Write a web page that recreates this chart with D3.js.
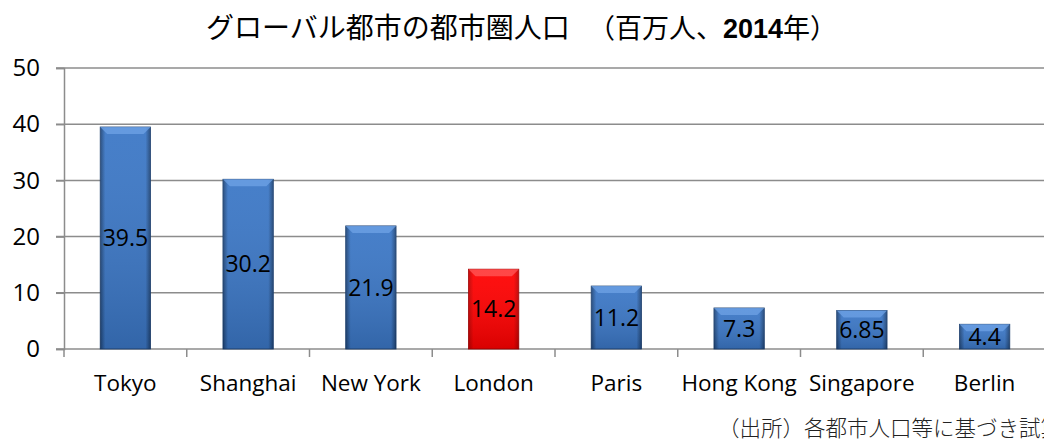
<!DOCTYPE html>
<html>
<head>
<meta charset="utf-8">
<script src="https://cdn.jsdelivr.net/npm/d3@7"></script>
<style>
  body { margin: 0; background: #fff; }
  svg { display: block; }
</style>
</head>
<body>
<svg id="chart"></svg>
<script>
// data
const cities = ["Tokyo", "Shanghai", "New York", "London", "Paris", "Hong Kong", "Singapore", "Berlin"];
const population = [39.5, 30.2, 21.9, 14.2, 11.2, 7.3, 6.85, 4.4];
const valueLabels = ["39.5", "30.2", "21.9", "14.2", "11.2", "7.3", "6.85", "4.4"];
const highlightCity = "London";
const yTicks = [0, 10, 20, 30, 40, 50];

const W = 1044, H = 440;
const margin = { top: 68, right: -2, bottom: 91, left: 64 };

const svg = d3.select("#chart").attr("width", W).attr("height", H);

// gradients for the bevelled bars
const defs = svg.append("defs");
function barGradient(id, edge, mid) {
    const g = defs.append("linearGradient").attr("id", id).attr("x1", 0).attr("x2", 1).attr("y1", 0).attr("y2", 0);
    g.append("stop").attr("offset", "0%").attr("stop-color", edge);
    g.append("stop").attr("offset", "10%").attr("stop-color", mid);
    g.append("stop").attr("offset", "90%").attr("stop-color", mid);
    g.append("stop").attr("offset", "100%").attr("stop-color", edge);
}
barGradient("blueBar", "#1f4577", "#3b77c6");
barGradient("redBar", "#c00000", "#ff0000");
const shade = defs.append("linearGradient").attr("id", "shade").attr("x1", 0).attr("x2", 0).attr("y1", 0).attr("y2", 1);
shade.append("stop").attr("offset", "0%").attr("stop-color", "#ffffff").attr("stop-opacity", 0.06);
shade.append("stop").attr("offset", "100%").attr("stop-color", "#000000").attr("stop-opacity", 0.15);

const x = d3.scaleBand()
    .domain(cities)
    .range([margin.left, W - margin.right])
    .paddingInner(0.59)
    .paddingOuter(0.295);

const y = d3.scaleLinear()
    .domain([0, 50])
    .range([H - margin.bottom, margin.top]);

// gridlines
svg.append("g")
    .selectAll("line")
    .data(yTicks)
    .enter()
    .append("line")
    .attr("x1", margin.left - 8)
    .attr("x2", W)
    .attr("y1", d => y(d))
    .attr("y2", d => y(d))
    .attr("stroke", "#8c8c8c")
    .attr("stroke-width", 1.5);

// y axis
const yAxis = svg.append("g")
    .attr("transform", "translate(" + margin.left + ",0)")
    .call(d3.axisLeft(y).tickValues(yTicks).tickSize(8).tickPadding(16));
yAxis.select(".domain").attr("stroke", "#8c8c8c").attr("stroke-width", 1.5);
yAxis.selectAll(".tick line").attr("stroke", "#8c8c8c").attr("stroke-width", 1.5);
yAxis.selectAll("text")
    .attr("font-family", "'Open Sans', sans-serif")
    .attr("font-size", 24)
    .attr("fill", "#000");

// x axis ticks between categories
const step = x.step();
const boundaries = d3.range(cities.length + 1).map(i => margin.left + i * step);
svg.append("g")
    .selectAll("line")
    .data(boundaries)
    .enter()
    .append("line")
    .attr("x1", d => d)
    .attr("x2", d => d)
    .attr("y1", y(0))
    .attr("y2", y(0) + 8)
    .attr("stroke", "#8c8c8c")
    .attr("stroke-width", 1.5);

// bars
const bars = svg.append("g")
    .selectAll("g")
    .data(cities)
    .enter()
    .append("g");

bars.append("rect")
    .attr("x", d => x(d))
    .attr("y", (d, i) => y(population[i]))
    .attr("width", x.bandwidth())
    .attr("height", (d, i) => y(0) - y(population[i]))
    .attr("fill", d => d === highlightCity ? "url(#redBar)" : "url(#blueBar)")
    .attr("stroke", d => d === highlightCity ? "#a00000" : "#1c3f6e")
    .attr("stroke-width", 0.8);

bars.append("rect")
    .attr("x", d => x(d))
    .attr("y", (d, i) => y(population[i]))
    .attr("width", x.bandwidth())
    .attr("height", (d, i) => y(0) - y(population[i]))
    .attr("fill", "url(#shade)");

// top bevel
bars.append("path")
    .attr("d", (d, i) => {
        const x0 = x(d), x1 = x0 + x.bandwidth(), t = y(population[i]), b = 7;
        return "M" + x0 + "," + t + "L" + x1 + "," + t + "L" + (x1 - b) + "," + (t + b) + "L" + (x0 + b) + "," + (t + b) + "Z";
    })
    .attr("fill", d => d === highlightCity ? "#ff5a5a" : "#6fa3e6")
    .attr("opacity", 0.75);

// value labels in the middle of each bar
bars.append("text")
    .attr("x", d => x(d) + x.bandwidth() / 2)
    .attr("y", (d, i) => (y(population[i]) + y(0)) / 2)
    .attr("dy", "0.36em")
    .attr("text-anchor", "middle")
    .attr("font-family", "'Open Sans', sans-serif")
    .attr("font-size", 23)
    .attr("fill", "#000")
    .text((d, i) => valueLabels[i]);

// category labels
svg.append("g")
    .selectAll("text")
    .data(cities)
    .enter()
    .append("text")
    .attr("x", d => x(d) + x.bandwidth() / 2)
    .attr("y", 391)
    .attr("text-anchor", "middle")
    .attr("font-family", "'Open Sans', sans-serif")
    .attr("font-size", 22.5)
    .attr("fill", "#000")
    .text(d => d);

// title, in two pieces like the original
svg.append("text")
    .attr("x", 206)
    .attr("y", 38)
    .attr("font-family", "'Noto Sans CJK JP', sans-serif")
    .attr("font-size", 28)
    .attr("fill", "#000")
    .text("グローバル都市の都市圏人口");

const title2 = svg.append("text")
    .attr("x", 588)
    .attr("y", 38)
    .attr("font-family", "'Noto Sans CJK JP', sans-serif")
    .attr("font-size", 27)
    .attr("fill", "#000");
title2.append("tspan").text("（百万人、");
title2.append("tspan").attr("font-family", "'Liberation Sans', Arial, sans-serif").attr("font-weight", "bold").text("2014");
title2.append("tspan").text("年）");

// source note, cut off at the right edge as in the original
svg.append("text")
    .attr("x", 718)
    .attr("y", 436)
    .attr("font-family", "'Noto Sans CJK JP', sans-serif")
    .attr("font-size", 21.5)
    .attr("font-weight", 300)
    .attr("fill", "#222")
    .text("（出所）各都市人口等に基づき試算");
</script>
</body>
</html>
